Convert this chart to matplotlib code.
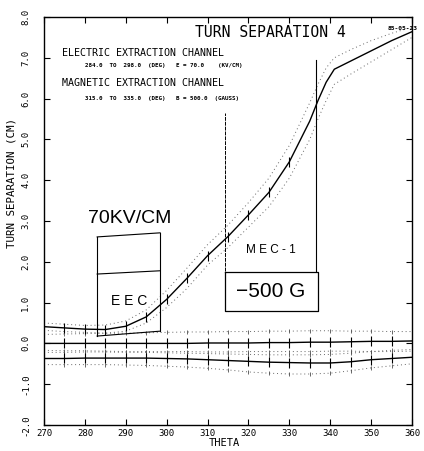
import matplotlib
matplotlib.use("Agg")
import matplotlib.pyplot as plt
import numpy as np

# main turn-separation curve (upper one)
theta_main = [270, 275, 280, 285, 290, 295, 300, 305, 310, 315, 320, 325, 330,
              335, 337, 339, 341, 345, 350, 355, 360]
sep_main = [0.41, 0.38, 0.35, 0.34, 0.42, 0.65, 1.08, 1.6, 2.15, 2.62, 3.15, 3.7, 4.45,
            5.45, 5.95, 6.4, 6.72, 6.92, 7.17, 7.42, 7.64]
sep_main_hi = [0.5, 0.47, 0.44, 0.45, 0.55, 0.82, 1.3, 1.85, 2.42, 2.9, 3.45, 4.05, 4.85,
               5.9, 6.35, 6.75, 7.0, 7.2, 7.42, 7.6, 7.75]
sep_main_lo = [0.32, 0.29, 0.27, 0.25, 0.3, 0.5, 0.88, 1.35, 1.92, 2.35, 2.85, 3.35, 4.05,
               5.0, 5.5, 5.95, 6.35, 6.6, 6.9, 7.2, 7.5]

# lower pair of curves
theta5 = list(range(270, 361, 5))
sep_a = [0.0, 0.0, 0.0, 0.0, 0.0, 0.0, 0.0, 0.0, 0.01, 0.01, 0.01, 0.02, 0.02, 0.03,
         0.03, 0.04, 0.05, 0.05, 0.06]
sep_a_hi = [0.22, 0.23, 0.24, 0.25, 0.25, 0.26, 0.27, 0.28, 0.28, 0.29, 0.29, 0.3, 0.3,
            0.31, 0.31, 0.3, 0.3, 0.29, 0.29]
sep_a_lo = [-0.17, -0.18, -0.18, -0.19, -0.2, -0.2, -0.2, -0.2, -0.21, -0.21, -0.2, -0.2,
            -0.2, -0.2, -0.19, -0.19, -0.2, -0.2, -0.19]
sep_b = [-0.37, -0.37, -0.36, -0.36, -0.36, -0.36, -0.37, -0.38, -0.4, -0.42, -0.44,
         -0.46, -0.47, -0.48, -0.48, -0.45, -0.4, -0.37, -0.34]
sep_b_hi = [-0.22, -0.22, -0.21, -0.21, -0.22, -0.22, -0.23, -0.24, -0.25, -0.26, -0.27,
            -0.28, -0.28, -0.28, -0.27, -0.24, -0.2, -0.17, -0.15]
sep_b_lo = [-0.52, -0.52, -0.52, -0.52, -0.53, -0.54, -0.56, -0.58, -0.61, -0.65, -0.7,
            -0.73, -0.75, -0.75, -0.73, -0.67, -0.6, -0.55, -0.5]

# channel outlines (theta, separation)
eec_theta = [283.0, 298.4]
eec_top = [2.61, 2.71]
eec_mid = [1.70, 1.78]
eec_bot = [0.18, 0.30]
mec_left, mec_right = 314.3, 336.5
mec_left_top, mec_right_top, mec_bottom = 5.65, 6.95, 1.77
box_theta = [314.3, 337.0]
box_sep = [0.80, 1.76]

xticks = list(range(270, 361, 10))
yticks = list(range(-2, 9))

MONO = "DejaVu Sans Mono"
plt.rcParams["font.family"] = MONO

fig = plt.figure(figsize=(4.24, 4.51), dpi=100)
ax = fig.add_axes([44 / 424, 1 - 425 / 451, 368 / 424, 408 / 451])

# dotted envelopes
ax.plot(theta_main, sep_main_hi, color="0.4", lw=0.7, ls=(0, (1, 3)))
ax.plot(theta_main, sep_main_lo, color="0.4", lw=0.7, ls=(0, (1, 3)))
for s in [sep_a_hi, sep_a_lo, sep_b_hi, sep_b_lo]:
    ax.plot(theta5, s, color="0.4", lw=0.7, ls=(0, (1, 3)))
    ax.plot(theta5[1:-1], s[1:-1], ls="none", marker="|", ms=3, mew=0.6, color="0.3")

# solid curves with data marks
ax.plot(theta_main, sep_main, color="black", lw=1.0)
ax.plot(theta_main[1:13], sep_main[1:13], ls="none", marker="|", ms=7, mew=0.8, color="black")
for s in [sep_a, sep_b]:
    ax.plot(theta5, s, color="black", lw=1.0)
    ax.plot(theta5[1:-1], s[1:-1], ls="none", marker="|", ms=7, mew=0.8, color="black")

# EEC outline
ax.plot([eec_theta[0]] * 2, [eec_bot[0], eec_top[0]], color="black", lw=0.8)
ax.plot([eec_theta[1]] * 2, [eec_bot[1], eec_top[1]], color="black", lw=0.8)
for s in [eec_top, eec_mid, eec_bot]:
    ax.plot(eec_theta, s, color="black", lw=0.8)

# MEC outline
ax.plot([mec_left] * 2, [mec_bottom, mec_left_top], color="black", lw=0.7, ls=(0, (4, 1)))
ax.plot([mec_right] * 2, [mec_bottom, mec_right_top], color="black", lw=0.8)
ax.plot([box_theta[0], box_theta[1], box_theta[1], box_theta[0], box_theta[0]],
        [box_sep[1], box_sep[1], box_sep[0], box_sep[0], box_sep[1]], color="black", lw=0.9)

ax.text(291.0, 3.05, "70KV/CM", fontsize=14, family="Liberation Sans", ha="center", va="center")
ax.text(290.8, 1.05, "E E C", fontsize=10, family="Liberation Sans", ha="center", va="center")
ax.text(325.5, 2.3, "M E C - 1", fontsize=8.5, family="Liberation Sans", ha="center", va="center")
ax.text(325.5, 1.27, "\u2212500 G", fontsize=15, family="Liberation Sans", ha="center", va="center")

# header texts
ax.text(0.614, 0.963, "TURN SEPARATION 4", transform=ax.transAxes, fontsize=10.6,
        ha="center", va="center")
ax.text(0.049, 0.912, "ELECTRIC EXTRACTION CHANNEL", transform=ax.transAxes, fontsize=7.2,
        ha="left", va="center")
ax.text(0.111, 0.880, "284.0  TO  298.0  (DEG)   E = 70.0    (KV/CM)", transform=ax.transAxes,
        fontsize=4.2, fontweight="bold", ha="left", va="center")
ax.text(0.049, 0.838, "MAGNETIC EXTRACTION CHANNEL", transform=ax.transAxes, fontsize=7.2,
        ha="left", va="center")
ax.text(0.111, 0.801, "315.0  TO  335.0  (DEG)   B = 500.0  (GAUSS)", transform=ax.transAxes,
        fontsize=4.2, fontweight="bold", ha="left", va="center")
ax.text(0.935, 0.973, "85-05-23", transform=ax.transAxes, fontsize=4.5, fontweight="bold",
        ha="left", va="center", clip_on=False)

ax.set_xlim(270, 360)
ax.set_ylim(-2, 8)
ax.set_xticks(xticks)
ax.set_xticklabels([str(t) for t in xticks], fontsize=6.5)
ax.set_yticks(yticks)
ax.set_yticklabels([f"{t:.1f}" for t in yticks], fontsize=6.5, rotation=90, va="center")
ax.tick_params(direction="in", length=4, width=0.8, top=True, right=True)
ax.tick_params(axis="y", pad=10)
ax.tick_params(axis="x", pad=3)
for sp in ax.spines.values():
    sp.set_linewidth(1.0)

ax.text(-0.087, 0.593, "TURN SEPARATION (CM)", transform=ax.transAxes, rotation=90,
        fontsize=7.8, ha="center", va="center")
ax.text(0.49, -0.044, "THETA", transform=ax.transAxes, fontsize=7.5, ha="center", va="center")

fig.savefig("out.png", dpi=100)
plt.close(fig)
